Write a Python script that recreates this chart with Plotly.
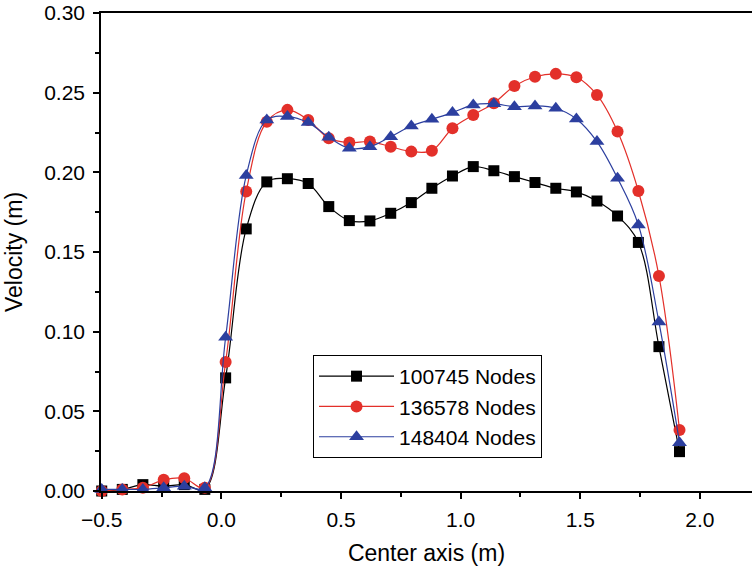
import plotly.graph_objects as go

x_vals = [-0.5, -0.414, -0.328, -0.241, -0.155, -0.069, 0.018, 0.104, 0.190, 0.276,
          0.363, 0.449, 0.535, 0.621, 0.708, 0.794, 0.880, 0.966, 1.053, 1.139,
          1.225, 1.311, 1.398, 1.484, 1.570, 1.656, 1.743, 1.829, 1.915]

nodes_100745 = [0.000, 0.001, 0.004, 0.003, 0.004, 0.001, 0.071, 0.1645, 0.194, 0.196,
                0.193, 0.1785, 0.1697, 0.1695, 0.1743, 0.181, 0.190, 0.1977, 0.2036, 0.201,
                0.1973, 0.1936, 0.190, 0.1877, 0.182, 0.1726, 0.156, 0.0906, 0.0247]

nodes_136578 = [0.000, 0.001, 0.002, 0.007, 0.008, 0.002, 0.081, 0.188, 0.2318, 0.2392,
                0.2329, 0.2214, 0.2187, 0.2193, 0.2161, 0.213, 0.2136, 0.2277, 0.236, 0.2434,
                0.2542, 0.260, 0.2618, 0.2597, 0.2486, 0.2256, 0.1883, 0.135, 0.0383]

nodes_148404 = [0.001, 0.001, 0.001, 0.002, 0.003, 0.002, 0.0965, 0.198, 0.2329, 0.235,
                0.2312, 0.222, 0.2151, 0.2161, 0.2224, 0.2291, 0.2333, 0.2375, 0.2423, 0.243,
                0.2412, 0.2417, 0.2402, 0.2335, 0.2193, 0.1963, 0.167, 0.106, 0.0303]

series_names = ["100745 Nodes", "136578 Nodes", "148404 Nodes"]
series_data = [nodes_100745, nodes_136578, nodes_148404]
colors = ["#000000", "#e3302a", "#2c3f9f"]
symbols = ["square", "circle", "triangle-up"]
sizes = [11, 12, 13]

FONT = "Liberation Sans, Arial, sans-serif"

fig = go.Figure()
for name, ys, c, sym, sz in zip(series_names, series_data, colors, symbols, sizes):
    fig.add_trace(go.Scatter(
        x=x_vals, y=ys, name=name, mode="lines+markers",
        line=dict(color=c, width=1.2, shape="spline", smoothing=1.0),
        marker=dict(symbol=sym, size=sz, color=c, line=dict(width=0)),
        cliponaxis=False,
    ))

fig.update_layout(
    width=752, height=566,
    margin=dict(l=101, r=0, t=13, b=75, autoexpand=False),
    paper_bgcolor="white", plot_bgcolor="white",
    font=dict(family=FONT, color="black", size=21),
    showlegend=True,
    legend=dict(
        x=0.3257, y=0.2845, xanchor="left", yanchor="top",
        bordercolor="black", borderwidth=1, bgcolor="white",
        font=dict(family=FONT, size=21, color="black"),
        itemwidth=75, tracegroupgap=0,
    ),
)

fig.update_xaxes(
    range=[-0.503, 2.218], showgrid=False, zeroline=False, automargin=False,
    showline=True, linecolor="black", linewidth=1.5, mirror=True,
    ticks="outside", ticklen=6, tickwidth=1.5, tickcolor="black",
    tick0=-0.5, dtick=0.5, tickformat=".1f", ticklabelstandoff=3,
    ticklabeloverflow="allow",
    minor=dict(ticks="outside", ticklen=4, tickwidth=1.5, tickcolor="black", dtick=0.25, tick0=-0.5),
    tickfont=dict(family=FONT, size=21),
    title=dict(text="Center axis (m)", font=dict(family=FONT, size=23)),
)
fig.update_yaxes(
    range=[0, 0.30], showgrid=False, zeroline=False, automargin=False,
    showline=True, linecolor="black", linewidth=1.5,
    ticks="outside", ticklen=6, tickwidth=1.5, tickcolor="black",
    tick0=0, dtick=0.05, tickformat=".2f", ticklabelstandoff=4,
    ticklabeloverflow="allow",
    minor=dict(ticks="outside", ticklen=4, tickwidth=1.5, tickcolor="black", dtick=0.025, tick0=0),
    tickfont=dict(family=FONT, size=21),
    title=dict(text="Velocity (m)", font=dict(family=FONT, size=23)),
)

fig.write_html("out.html", config={"displayModeBar": False},
               post_script="document.body.style.margin='0';")
